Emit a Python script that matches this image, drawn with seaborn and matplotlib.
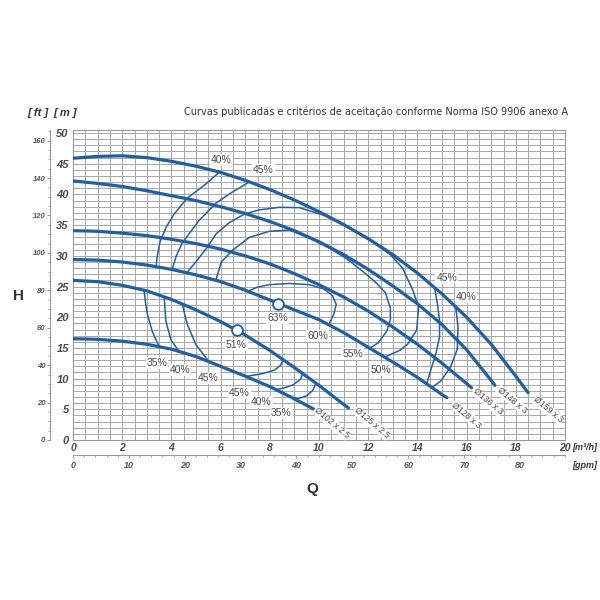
import matplotlib
matplotlib.use("Agg")
import matplotlib.pyplot as plt
import seaborn as sns
from matplotlib import font_manager
from matplotlib.ticker import MultipleLocator, FixedLocator


# impeller curves, Q in m3/h, H in m
Q_159 = [0, 1, 2, 3, 4, 5, 6, 7, 8, 9, 10, 11, 12, 13, 14, 15, 16, 17, 18, 18.5]
H_159 = [45.9, 46.2, 46.3, 46.0, 45.4, 44.6, 43.6, 42.3, 40.8, 39.1, 37.2, 35.1, 32.8, 30.2, 27.2, 23.8, 20.0,
         15.6, 10.4, 7.7]

Q_148 = [0, 1, 2, 3, 4, 5, 6, 7, 8, 9, 10, 11, 12, 13, 14, 15, 16, 17, 17.15]
H_148 = [42.2, 41.8, 41.3, 40.6, 39.8, 39.0, 38.0, 36.9, 35.6, 34.1, 32.3, 30.2, 27.8, 25.1, 22.2, 18.8, 14.7,
         9.7, 8.9]

Q_136 = [0, 1, 2, 3, 4, 5, 6, 7, 8, 9, 10, 11, 12, 13, 14, 15, 16, 16.2]
H_136 = [34.1, 34.0, 33.7, 33.3, 32.7, 32.0, 31.1, 30.0, 28.7, 27.1, 25.3, 23.3, 21.0, 18.4, 15.6, 12.5, 9.2, 8.5]

Q_128 = [0, 1, 2, 3, 4, 5, 6, 7, 8, 9, 10, 11, 12, 13, 14, 15, 15.2]
H_128 = [29.4, 29.3, 29.0, 28.5, 27.8, 26.9, 25.8, 24.4, 22.8, 21.2, 19.6, 17.5, 15.1, 12.7, 10.2, 7.4, 6.9]

Q_125 = [0, 1, 2, 3, 4, 5, 6, 7, 8, 9, 10, 11, 11.2]
H_125 = [26.0, 25.8, 25.2, 24.3, 22.9, 21.2, 19.3, 17.1, 14.6, 11.8, 8.9, 5.8, 5.2]

Q_102 = [0, 1, 2, 3, 4, 5, 6, 7, 8, 9, 9.8]
H_102 = [16.5, 16.4, 16.1, 15.6, 14.8, 13.6, 12.0, 10.4, 8.7, 6.7, 5.0]

# iso-efficiency lines (Q, H) - 3 stage family
EFF_40_LEFT = [(5.95, 43.65), (5.34, 41.5), (4.64, 39.4), (4.11, 36.8), (3.79, 34.7), (3.54, 32.3),
               (3.42, 29.8), (3.38, 28.25)]
EFF_45_LEFT = [(7.17, 42.05), (6.4, 40.2), (5.82, 38.6), (5.13, 35.8), (4.44, 32.1), (4.2, 30.0), (4.03, 27.8)]
EFF_50 = [(4.64, 27.3), (5.05, 29.3), (5.42, 31.2), (5.82, 33.6), (6.35, 35.4), (6.97, 36.8), (7.58, 37.5),
          (8.39, 37.9), (9.21, 37.85), (10.2, 36.6), (11.2, 34.6), (12.2, 32.2), (12.9, 30.2), (13.4, 28.0),
          (13.81, 24.4), (14.05, 21.7), (13.97, 17.9), (13.6, 15.6), (13.28, 14.6), (12.67, 13.5)]
EFF_55 = [(5.8, 25.95), (6.03, 29.0), (6.48, 30.9), (7.17, 33.0), (7.98, 34.0), (8.8, 34.2), (9.6, 32.9),
          (10.4, 31.3), (11.1, 29.6), (11.8, 27.4), (12.3, 25.7), (12.7, 24.0), (12.9, 21.5), (12.9, 19.6),
          (12.75, 17.7), (12.4, 15.8), (12.06, 14.96)]
EFF_60 = [(7.09, 24.2), (7.5, 24.9), (7.98, 25.3), (8.8, 25.5), (9.6, 25.3), (10.2, 24.6), (10.55, 23.5),
          (10.7, 22.1), (10.6, 20.5), (10.4, 18.8)]
EFF_45_RIGHT = [(14.7, 24.8), (14.82, 22.0), (14.9, 19.5), (14.9, 16.8), (14.75, 14.0), (14.55, 11.5),
                (14.38, 9.2)]
EFF_40_RIGHT = [(15.55, 21.9), (15.65, 18.5), (15.62, 14.8), (15.35, 11.9), (14.95, 9.6), (14.6, 8.6)]

# iso-efficiency lines (Q, H) - 2.5 stage family
LOW_35_LEFT = [(2.89, 24.4), (2.95, 22.3), (3.03, 20.4), (3.23, 17.6), (3.5, 15.2)]
LOW_40_LEFT = [(3.71, 23.3), (3.74, 21.2), (3.78, 19.3), (3.98, 16.3), (4.32, 14.4)]
LOW_45_LEFT = [(4.45, 22.1), (4.55, 20.3), (4.66, 18.7), (5.0, 15.5), (5.54, 12.7)]
LOW_45_RIGHT = [(8.53, 13.1), (8.45, 12.2), (8.2, 11.4), (7.7, 10.8), (7.03, 10.35)]
LOW_40_RIGHT = [(9.34, 10.8), (9.25, 9.9), (8.95, 9.0), (8.6, 8.5), (8.26, 8.2)]
LOW_35_RIGHT = [(9.88, 9.25), (9.75, 8.1), (9.5, 7.2), (9.2, 6.8), (8.95, 6.8)]

# best efficiency points
BEP_Q = [8.33, 6.65]
BEP_H = [22.2, 17.9]

FT_TICKS = [0, 20, 40, 60, 80, 100, 120, 140, 160]
GPM_TICKS = [0, 10, 20, 30, 40, 50, 60, 70, 80]

BLUE = "#1f5ea8"
TEXT = "#4a4a4a"


def pick_font(names, default=None):
    for name in names:
        try:
            font_manager.findfont(font_manager.FontProperties(family=name), fallback_to_default=False)
            return name
        except ValueError:
            continue
    return default


def condensed_font():
    """Look for any installed narrow/condensed regular face for the title."""
    for f in font_manager.fontManager.ttflist:
        name = f.name + " " + f.fname
        narrow = ('Narrow' in name or 'Condensed' in name
                  or str(f.stretch) in ('condensed', 'semi-condensed', 'extra-condensed'))
        if narrow and f.style == 'normal' and f.weight in (400, 'normal', 'regular') and f.fname.endswith('.ttf'):
            return f.fname
    return None


sns.set_style("white")
BASE = pick_font(['Liberation Sans', 'Arial'], 'DejaVu Sans')
NARROW_FILE = condensed_font()
plt.rcParams['font.family'] = [BASE, 'DejaVu Sans']

fig = plt.figure(figsize=(6, 6), dpi=100)
ax = fig.add_axes([73 / 600, 1 - 440 / 600, 492 / 600, 310 / 600])
ax.set_xlim(0, 20)
ax.set_ylim(0, 50.5)

# grid
ax.xaxis.set_major_locator(MultipleLocator(2))
ax.xaxis.set_minor_locator(MultipleLocator(0.5))
ax.yaxis.set_major_locator(MultipleLocator(5))
ax.yaxis.set_minor_locator(MultipleLocator(1))
ax.grid(True, which='both', color='#a8a8a8', linewidth=0.7)
ax.set_axisbelow(True)
for side in ['left', 'bottom', 'top', 'right']:
    ax.spines[side].set_color('#999999')
    ax.spines[side].set_linewidth(0.8)

ax.tick_params(axis='both', which='minor', length=0)
ax.tick_params(axis='y', which='major', length=0, pad=3, labelsize=8, labelcolor=TEXT)
ax.tick_params(axis='x', which='major', length=0, pad=2, labelsize=7.5, labelcolor=TEXT)
for lab in ax.get_xticklabels() + ax.get_yticklabels():
    lab.set_fontweight('bold')
    lab.set_fontstyle('italic')

# impeller curves
for q, h in [(Q_159, H_159), (Q_148, H_148), (Q_136, H_136), (Q_128, H_128), (Q_125, H_125), (Q_102, H_102)]:
    sns.lineplot(x=q, y=h, sort=False, estimator=None, color=BLUE, linewidth=2.3, ax=ax, zorder=3)

# efficiency curves
for curve in [EFF_40_LEFT, EFF_45_LEFT, EFF_50, EFF_55, EFF_60, EFF_45_RIGHT, EFF_40_RIGHT,
              LOW_35_LEFT, LOW_40_LEFT, LOW_45_LEFT, LOW_45_RIGHT, LOW_40_RIGHT, LOW_35_RIGHT]:
    sns.lineplot(x=[p[0] for p in curve], y=[p[1] for p in curve], sort=False, estimator=None,
                 color=BLUE, linewidth=1.1, ax=ax, zorder=3)

sns.scatterplot(x=BEP_Q, y=BEP_H, s=60, color='white', edgecolor=BLUE, linewidth=1.3, ax=ax, zorder=5)

box = dict(facecolor='white', edgecolor='none', pad=0.6)
pct_labels = [("40%", 6.03, 45.6), ("45%", 7.74, 44.0), ("45%", 15.19, 26.4), ("40%", 15.97, 23.3),
              ("60%", 9.94, 16.9), ("55%", 11.36, 14.0), ("50%", 12.5, 11.4), ("63%", 8.31, 19.9),
              ("51%", 6.64, 15.5), ("35%", 3.42, 12.5), ("40%", 4.36, 11.4), ("45%", 5.5, 10.1),
              ("45%", 6.76, 7.65), ("40%", 7.66, 6.2), ("35%", 8.47, 4.4)]
for txt, x, y in pct_labels:
    ax.text(x, y, txt, fontsize=7.5, color=TEXT, ha='center', va='center', bbox=box, zorder=4)

dia_labels = [("Ø102 x 2.5", 10.51, 2.77), ("Ø125 x 2.5", 12.14, 2.77), ("Ø128 x 3", 16.0, 4.07),
              ("Ø136 x 3", 16.86, 6.19), ("Ø148 x 3", 17.84, 6.51), ("Ø159 x 3", 19.31, 4.89)]
for txt, x, y in dia_labels:
    ax.text(x, y, txt, fontsize=6.3, color=TEXT, ha='center', va='center', rotation=-40,
            rotation_mode='anchor', bbox=dict(facecolor='white', edgecolor='none', pad=0.3), zorder=4)

# secondary scales: feet and gpm
ft = ax.secondary_yaxis(-23 / 492, functions=(lambda m: m * 3.28084, lambda f: f / 3.28084))
ft.yaxis.set_major_locator(FixedLocator(FT_TICKS))
ft.yaxis.set_minor_locator(MultipleLocator(5))
ft.tick_params(which='major', length=2.5, pad=1, labelsize=5.5, labelcolor='#555555', color='#999999')
ft.tick_params(which='minor', length=1.5, color='#999999')
ft.spines['left'].set_color('#999999')
for lab in ft.get_yticklabels():
    lab.set_fontweight('bold')
    lab.set_fontstyle('italic')

gpm = ax.secondary_xaxis(-15 / 310, functions=(lambda q: q * 4.40287, lambda g: g / 4.40287))
gpm.xaxis.set_major_locator(FixedLocator(GPM_TICKS))
gpm.xaxis.set_minor_locator(MultipleLocator(2))
gpm.tick_params(which='major', length=2.5, pad=2, labelsize=6.5, labelcolor='#555555', color='#999999')
gpm.tick_params(which='minor', length=1.5, color='#999999')
gpm.spines['bottom'].set_color('#999999')
for lab in gpm.get_xticklabels():
    lab.set_fontweight('bold')
    lab.set_fontstyle('italic')

# texts
title = "Curvas publicadas e critérios de aceitação conforme Norma ISO 9906 anexo A"
if NARROW_FILE:
    fig.text(568 / 600, 1 - 112 / 600, title, ha='right', va='center',
             fontproperties=font_manager.FontProperties(fname=NARROW_FILE, size=7.8), color='#333333')
else:
    fig.text(568 / 600, 1 - 112 / 600, title, ha='right', va='center', fontsize=7.9, color='#333333')

fig.text(38 / 600, 1 - 113 / 600, "[ ft ]", ha='center', va='center', fontsize=8, fontweight='bold',
         fontstyle='italic', color='#333333')
fig.text(65 / 600, 1 - 113 / 600, "[ m ]", ha='center', va='center', fontsize=8, fontweight='bold',
         fontstyle='italic', color='#333333')
fig.text(18 / 600, 1 - 296 / 600, "H", ha='center', va='center', fontsize=11, fontweight='bold', color='#333333')
fig.text(312 / 600, 1 - 489 / 600, "Q", ha='center', va='center', fontsize=11, fontweight='bold', color='#333333')
fig.text(572 / 600, 1 - 447 / 600, "[m³/h]", ha='left', va='center', fontsize=6.5, fontweight='bold',
         fontstyle='italic', color='#333333')
fig.text(572 / 600, 1 - 465 / 600, "[gpm]", ha='left', va='center', fontsize=6.5, fontweight='bold',
         fontstyle='italic', color='#333333')

fig.savefig("out.png", dpi=100, facecolor='white')
